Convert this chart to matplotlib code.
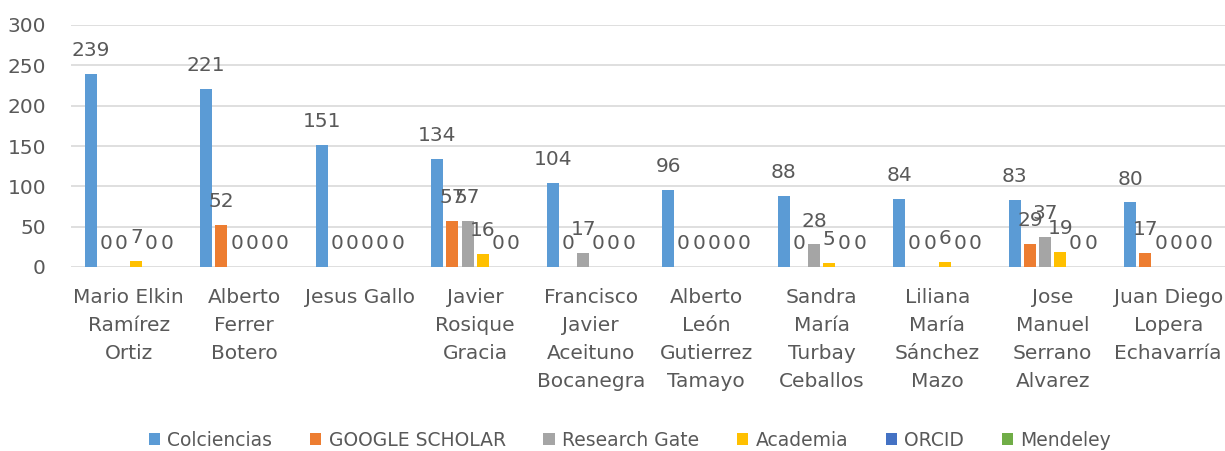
import numpy as np
import matplotlib.pyplot as plt

# data
names = ["Mario Elkin\nRamírez\nOrtiz", "Alberto\nFerrer\nBotero", "Jesus Gallo",
         "Javier\nRosique\nGracia", "Francisco\nJavier\nAceituno\nBocanegra",
         "Alberto\nLeón\nGutierrez\nTamayo", "Sandra\nMaría\nTurbay\nCeballos",
         "Liliana\nMaría\nSánchez\nMazo", "Jose\nManuel\nSerrano\nAlvarez",
         "Juan Diego\nLopera\nEchavarría"]
colciencias = [239, 221, 151, 134, 104, 96, 88, 84, 83, 80]
google_scholar = [0, 52, 0, 57, 0, 0, 0, 0, 29, 17]
research_gate = [0, 0, 0, 57, 17, 0, 28, 0, 37, 0]
academia = [7, 0, 0, 16, 0, 0, 5, 6, 19, 0]
orcid = [0, 0, 0, 0, 0, 0, 0, 0, 0, 0]
mendeley = [0, 0, 0, 0, 0, 0, 0, 0, 0, 0]

series = [("Colciencias", colciencias, "#5B9BD5"),
          ("GOOGLE SCHOLAR", google_scholar, "#ED7D31"),
          ("Research Gate", research_gate, "#A5A5A5"),
          ("Academia", academia, "#FFC000"),
          ("ORCID", orcid, "#4472C4"),
          ("Mendeley", mendeley, "#70AD47")]

txt = "#595959"
fig = plt.figure(figsize=(12.25, 4.51), dpi=100)
ax = fig.add_axes([71 / 1225, 184 / 451, 1155 / 1225, 242 / 451])

x = np.arange(len(names))
slot = 0.1315
bw = 0.104
for i, (lab, vals, col) in enumerate(series):
    bars = ax.bar(x + (i - 2.5) * slot, vals, bw, color=col, label=lab, linewidth=0)
    ax.bar_label(bars, padding=10, fontsize=14.5, color=txt)

ax.set_xlim(-0.5, len(names) - 0.5)
ax.set_ylim(0, 300)
ax.set_yticks(range(0, 301, 50))
ax.yaxis.grid(True, color="#D9D9D9", linewidth=1.2)
ax.set_axisbelow(True)
for s in ax.spines.values():
    s.set_visible(False)
ax.tick_params(length=0, labelsize=14.5, labelcolor=txt)
ax.tick_params(axis="y", pad=18)
ax.set_xticks(x)
ax.set_xticklabels(names, linespacing=1.6, va="top")
ax.tick_params(axis="x", pad=15)

fig.legend(loc="center", bbox_to_anchor=(630 / 1225, 1 - 440 / 451), ncol=6,
           frameon=False, handlelength=0.6, handleheight=0.6,
           handletextpad=0.4, columnspacing=2.0,
           labelcolor=txt, prop={"size": 13.5})

fig.savefig("out.png", dpi=100)
